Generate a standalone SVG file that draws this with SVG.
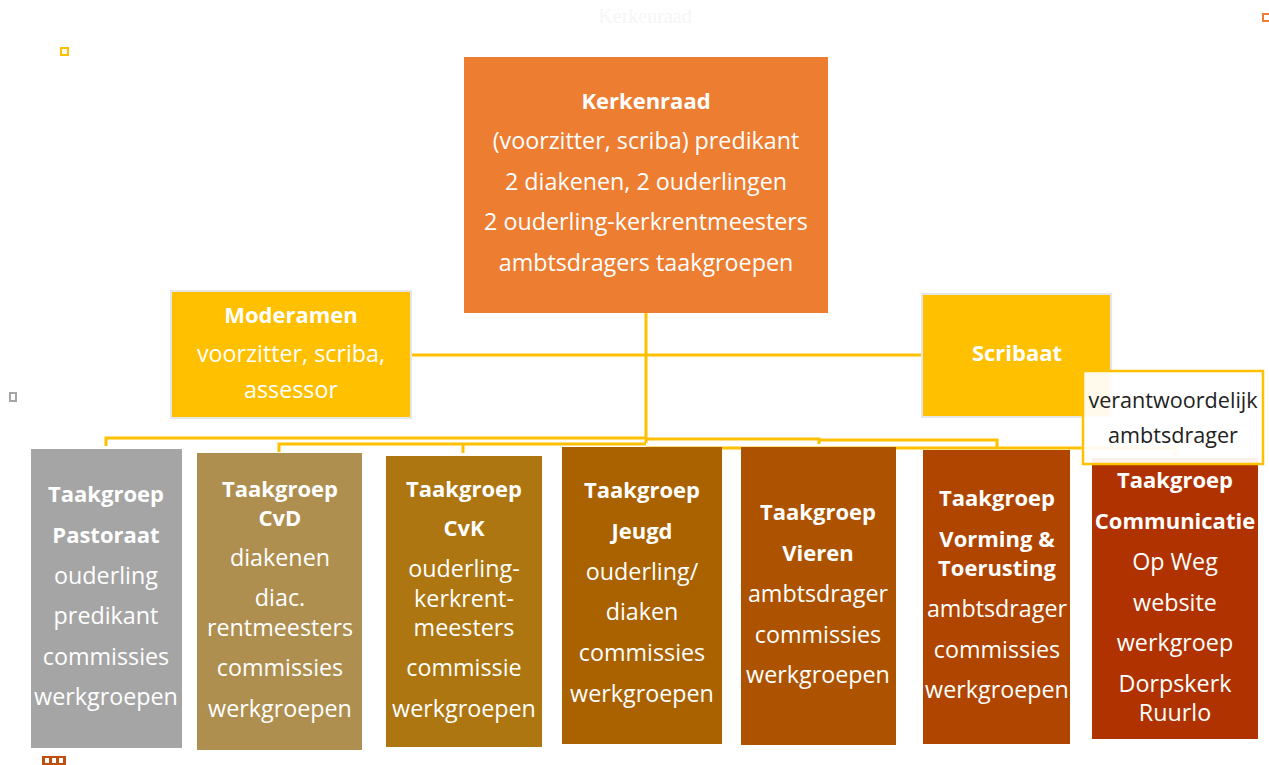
<svg xmlns="http://www.w3.org/2000/svg" width="1269" height="765" viewBox="0 0 1269 765">
<style>
.t{font-family:"Open Sans",Lato,sans-serif;font-size:23.3px;fill:#fff;text-anchor:middle}
.b{font-weight:bold;font-size:22px}
.c{fill:none;stroke:#FFC000;stroke-width:3}
.ob{stroke:#e6e6e6;stroke-width:2}
</style>
<rect width="1269" height="765" fill="#fff"/>
<text x="645" y="23" style="font-family:'Liberation Serif',serif;font-size:20px;fill:#f6f6f6;text-anchor:middle">Kerkenraad</text>
<g id="decor">
<rect x="61" y="48" width="7" height="7" fill="#fff" stroke="#FFC000" stroke-width="2"/>
<rect x="1263" y="14" width="7" height="7" fill="#fff" stroke="#ED7D31" stroke-width="2"/>
<rect x="10" y="393" width="6" height="8" fill="#fff" stroke="#A5A5A5" stroke-width="2"/>
<rect x="42" y="756" width="24" height="9" fill="#C05010"/>
<rect x="45" y="758" width="4" height="5" fill="#fff"/>
<rect x="52" y="758" width="4" height="5" fill="#fff"/>
<rect x="59" y="758" width="4" height="5" fill="#fff"/>
</g>
<g id="connectors">
<path class="c" d="M646 313V443"/>
<path class="c" d="M412 355H922"/>
<path class="c" d="M106 446V438H646"/>
<path class="c" d="M279 452V444H646"/>
<path class="c" d="M463 453V444"/>
<path class="c" d="M646 439H819V444"/>
<path class="c" d="M819 440H997V447"/>
<path class="c" d="M646 448H1175V456"/>
</g>
<g id="kerkenraad">
<rect x="464" y="57" width="364" height="256" fill="#ED7D31"/>
<text class="t b" x="646" y="109">Kerkenraad</text>
<text class="t" x="646" y="149">(voorzitter, scriba) predikant</text>
<text class="t" x="646" y="190">2 diakenen, 2 ouderlingen</text>
<text class="t" x="646" y="230">2 ouderling-kerkrentmeesters</text>
<text class="t" x="646" y="271">ambtsdragers taakgroepen</text>
</g>
<g id="moderamen">
<rect class="ob" x="171" y="291" width="240" height="127" fill="#FFC000"/>
<text class="t b" x="291" y="323">Moderamen</text>
<text class="t" x="291" y="362">voorzitter, scriba,</text>
<text class="t" x="291" y="398">assessor</text>
</g>
<g id="scribaat">
<rect class="ob" x="922" y="294" width="189" height="123" fill="#FFC000"/>
<text class="t b" x="1017" y="361">Scribaat</text>
</g>
<g id="pastoraat">
<rect x="31" y="449" width="151" height="299" fill="#A5A5A5"/>
<text class="t b" x="106" y="502">Taakgroep</text>
<text class="t b" x="106" y="543">Pastoraat</text>
<text class="t" x="106" y="584">ouderling</text>
<text class="t" x="106" y="624">predikant</text>
<text class="t" x="106" y="665">commissies</text>
<text class="t" x="106" y="705">werkgroepen</text>
</g>
<g id="cvd">
<rect x="197" y="453" width="165" height="297" fill="#AF8F50"/>
<text class="t b" x="280" y="497">Taakgroep</text>
<text class="t b" x="280" y="526">CvD</text>
<text class="t" x="280" y="566">diakenen</text>
<text class="t" x="280" y="606">diac.</text>
<text class="t" x="280" y="636">rentmeesters</text>
<text class="t" x="280" y="676">commissies</text>
<text class="t" x="280" y="717">werkgroepen</text>
</g>
<g id="cvk">
<rect x="386" y="456" width="156" height="291" fill="#AD7610"/>
<text class="t b" x="464" y="497">Taakgroep</text>
<text class="t b" x="464" y="536">CvK</text>
<text class="t" x="464" y="577">ouderling-</text>
<text class="t" x="464" y="607">kerkrent-</text>
<text class="t" x="464" y="636">meesters</text>
<text class="t" x="464" y="676">commissie</text>
<text class="t" x="464" y="717">werkgroepen</text>
</g>
<g id="jeugd">
<rect x="562" y="447" width="160" height="297" fill="#AA6200"/>
<text class="t b" x="642" y="498">Taakgroep</text>
<text class="t b" x="642" y="539">Jeugd</text>
<text class="t" x="642" y="580">ouderling/</text>
<text class="t" x="642" y="620">diaken</text>
<text class="t" x="642" y="661">commissies</text>
<text class="t" x="642" y="702">werkgroepen</text>
</g>
<g id="vieren">
<rect x="741" y="447" width="155" height="298" fill="#AD5300"/>
<text class="t b" x="818" y="520">Taakgroep</text>
<text class="t b" x="818" y="561">Vieren</text>
<text class="t" x="818" y="602">ambtsdrager</text>
<text class="t" x="818" y="643">commissies</text>
<text class="t" x="818" y="683">werkgroepen</text>
</g>
<g id="vorming">
<rect x="923" y="450" width="147" height="294" fill="#B04500"/>
<text class="t b" x="997" y="506">Taakgroep</text>
<text class="t b" x="997" y="547">Vorming &amp;</text>
<text class="t b" x="997" y="576">Toerusting</text>
<text class="t" x="997" y="617">ambtsdrager</text>
<text class="t" x="997" y="658">commissies</text>
<text class="t" x="997" y="698">werkgroepen</text>
</g>
<g id="communicatie">
<rect x="1092" y="458" width="166" height="281" fill="#B03200"/>
<text class="t b" x="1175" y="488">Taakgroep</text>
<text class="t b" x="1175" y="529">Communicatie</text>
<text class="t" x="1175" y="570">Op Weg</text>
<text class="t" x="1175" y="611">website</text>
<text class="t" x="1175" y="651">werkgroep</text>
<text class="t" x="1175" y="692">Dorpskerk</text>
<text class="t" x="1175" y="721">Ruurlo</text>
</g>
<g id="callout">
<rect x="1083" y="371" width="180" height="93" fill="#fff" fill-opacity="0.92" stroke="#FFC000" stroke-width="2.5"/>
<text class="t" x="1173" y="408" style="fill:#222;font-size:21.6px">verantwoordelijk</text>
<text class="t" x="1173" y="443" style="fill:#222;font-size:21.6px">ambtsdrager</text>
</g>
</svg>
